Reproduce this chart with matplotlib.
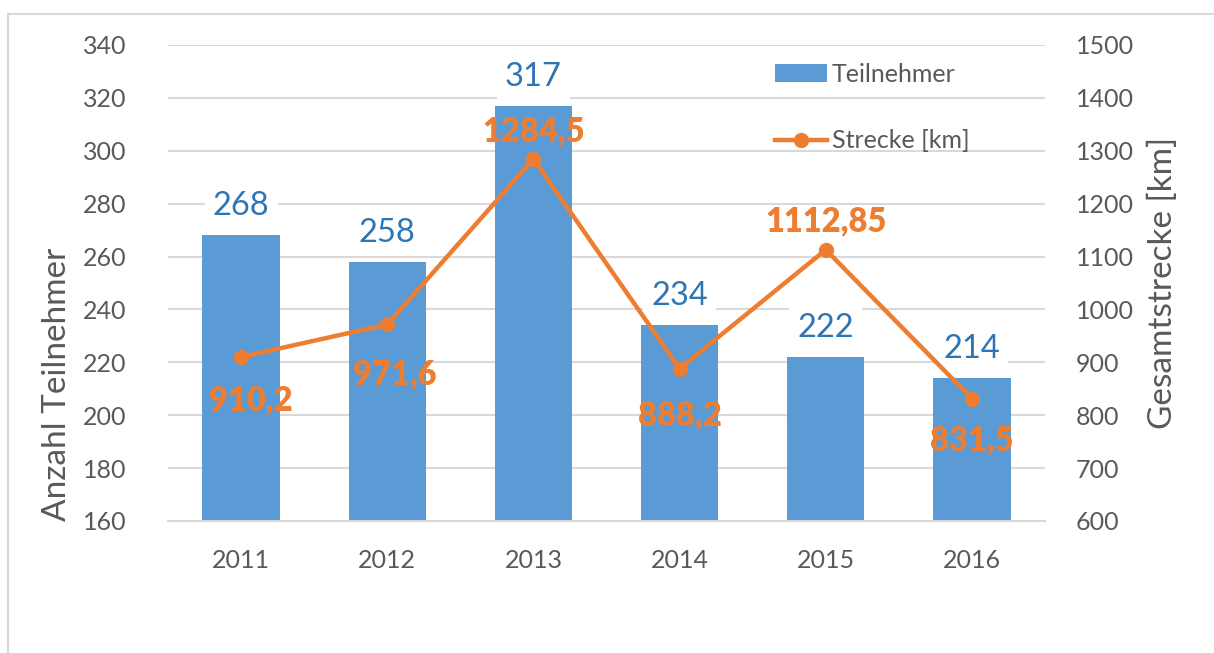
import numpy as np
import matplotlib
matplotlib.use('Agg')
import matplotlib.pyplot as plt
from matplotlib.patches import Rectangle

# data
years = ['2011', '2012', '2013', '2014', '2015', '2016']
teilnehmer = [268, 258, 317, 234, 222, 214]
strecke = [910.2, 971.6, 1284.5, 888.2, 1112.85, 831.5]
strecke_labels = ['910,2', '971,6', '1284,5', '888,2', '1112,85', '831,5']

BAR_C = '#5B9BD5'
LINE_C = '#ED7D31'
TXT_C = '#595959'
GRID_C = '#D9D9D9'

plt.rcParams['font.family'] = ['Lato', 'DejaVu Sans']

fig = plt.figure(figsize=(12.14, 6.53), dpi=100)
fig.patches.append(Rectangle((8/1214, -0.1), 1.2, 1 - 14/653 + 0.1,
                             transform=fig.transFigure, fill=False,
                             edgecolor=GRID_C, lw=1.5))

ax = fig.add_axes([168/1214, 1 - 521/653, (1045 - 168)/1214, (521 - 45)/653])
x = np.arange(len(years))
bars = ax.bar(x, teilnehmer, width=0.53, color=BAR_C, label='Teilnehmer', zorder=2)
ax.set_ylim(160, 340)
ax.set_yticks(np.arange(160, 341, 20))
ax.set_xlim(-0.5, len(years) - 0.5)
ax.set_xticks(x)
ax.set_xticklabels(years)
ax.yaxis.grid(True, color=GRID_C, lw=1.5, zorder=0)
ax.set_axisbelow(True)
for s in ax.spines.values():
    s.set_visible(False)
ax.spines['bottom'].set_visible(True)
ax.spines['bottom'].set_color(GRID_C)
ax.spines['bottom'].set_linewidth(1.5)
ax.tick_params(axis='both', length=0, labelsize=18, labelcolor=TXT_C)
ax.tick_params(axis='x', pad=20)
ax.tick_params(axis='y', pad=30)
ax.set_ylabel('Anzahl Teilnehmer', fontsize=24, color=TXT_C)
ax.yaxis.set_label_coords(-0.110, 0.286)

# bar value labels with white box (cuts the gridlines)
for xi, v in zip(x, teilnehmer):
    ax.annotate(str(v), (xi, v), xytext=(0, 14), textcoords='offset pixels',
                ha='center', va='bottom', fontsize=23.5, color='#2E75B6',
                bbox=dict(boxstyle='square,pad=0.25', fc='white', ec='none'),
                zorder=5)

ax2 = ax.twinx()
ax2.plot(x, strecke, color=LINE_C, lw=3.2, marker='o', ms=10,
         label='Strecke [km]', zorder=3)
ax2.set_ylim(600, 1500)
ax2.set_yticks(np.arange(600, 1501, 100))
for s in ax2.spines.values():
    s.set_visible(False)
ax2.tick_params(axis='y', length=0, labelsize=18, labelcolor=TXT_C, pad=22)
ax2.set_ylabel('Gesamtstrecke [km]', fontsize=24, color=TXT_C, labelpad=10)

label_offsets = [(10, -43), (8, -50), (0, 28), (0, -47), (0, 28), (0, -42)]
for xi, v, t, off in zip(x, strecke, strecke_labels, label_offsets):
    ax2.annotate(t, (xi, v), xytext=off, textcoords='offset pixels',
                 ha='center', va='center', fontsize=23.5, fontweight='heavy',
                 color=LINE_C, zorder=6)

h1, l1 = ax.get_legend_handles_labels()
h2, l2 = ax2.get_legend_handles_labels()
leg = ax2.legend(h1 + h2, l1 + l2, loc='upper left',
                 bbox_to_anchor=(0.666, 1.01),
                 frameon=False, fontsize=18, labelspacing=1.75,
                 handlelength=2.1, handletextpad=0.2)
for t in leg.get_texts():
    t.set_color(TXT_C)

fig.savefig('out.png', dpi=100)
